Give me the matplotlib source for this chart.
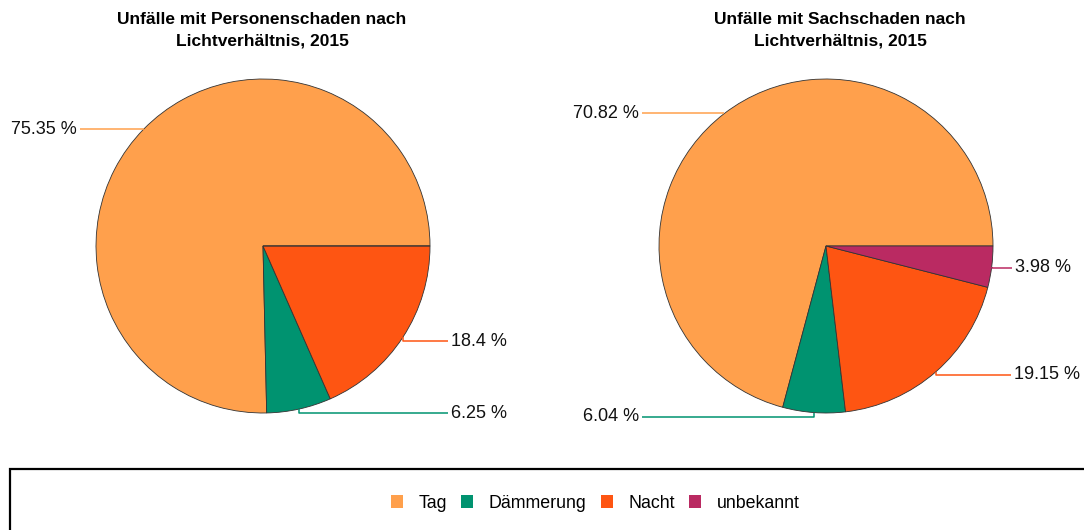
import numpy as np
import matplotlib
matplotlib.use("Agg")
from matplotlib import pyplot as plt
from matplotlib.patches import Rectangle, Patch

plt.rcParams['font.family'] = ['Liberation Sans', 'DejaVu Sans']

# data
categories = ["Tag", "Dämmerung", "Nacht", "unbekannt"]
colors = ["#FFA04C", "#009370", "#FE5512", "#BA2A62"]
titles = ["Unfälle mit Personenschaden nach\nLichtverhältnis, 2015",
          "Unfälle mit Sachschaden nach\nLichtverhältnis, 2015"]
personen = [75.35, 6.25, 18.4, 0.0]
sach = [70.82, 6.04, 19.15, 3.98]

W, H = 1084, 530
fig = plt.figure(figsize=[W / 100, H / 100], dpi=100)
ax = fig.add_axes([0, 0, 1, 1])

R = 167
centers = [(263, H - 246), (826, H - 246)]
title_x = [262, 840]
# label layout: (text x, y shift of the leader, side)
layouts = [
    {0: (77, 0, 'right'), 1: (451, -4, 'left'), 2: (451, -4, 'left')},
    {0: (639, 0, 'right'), 1: (639, -4, 'right'), 2: (1014, -3, 'left'), 3: (1015, -1, 'left')},
]

for (cx, cy), vals, title, lay, tx0 in zip(centers, [personen, sach], titles, layouts, title_x):
    wedges, _ = ax.pie(vals, colors=colors, center=(cx, cy), radius=R, startangle=0,
                       counterclock=True,
                       wedgeprops=dict(edgecolor='#333333', linewidth=0.6))
    # leader lines and labels
    start = 0.0
    for i, v in enumerate(vals):
        if v <= 0:
            continue
        mid = np.deg2rad(start + v * 3.6 / 2)
        start += v * 3.6
        ex, ey = cx + R * np.cos(mid), cy + R * np.sin(mid)
        tx, dy, side = lay[i]
        ly = ey + dy
        lx = tx + 3 if side == 'right' else tx - 3
        ax.plot([ex, ex, lx], [ey, ly, ly], color=colors[i], lw=1.1, solid_capstyle='butt')
        ax.text(tx, ly, f"{v:g} %", ha=side, va='center', fontsize=13, color='#111111')
    ax.text(tx0, H - 30, title, ha='center', va='center', fontsize=12.5,
            fontweight='bold', linespacing=1.55)

ax.set_xlim(0, W)
ax.set_ylim(0, H)
ax.set_aspect('auto')
ax.set_axis_off()

# legend frame
ax.add_patch(Rectangle((10, -20), W + 20, H - 469 + 20, fill=False,
                       edgecolor='black', linewidth=1.6, clip_on=False))

handles = [Patch(facecolor=c, edgecolor='none') for c in colors]
fig.legend(handles, categories, loc='center', bbox_to_anchor=(595 / W, 1 - 503 / H),
           ncol=4, frameon=False, fontsize=12.8, handlelength=0.7, handleheight=0.7,
           handletextpad=0.85, columnspacing=0.8)

fig.savefig("out.png", dpi=100)
